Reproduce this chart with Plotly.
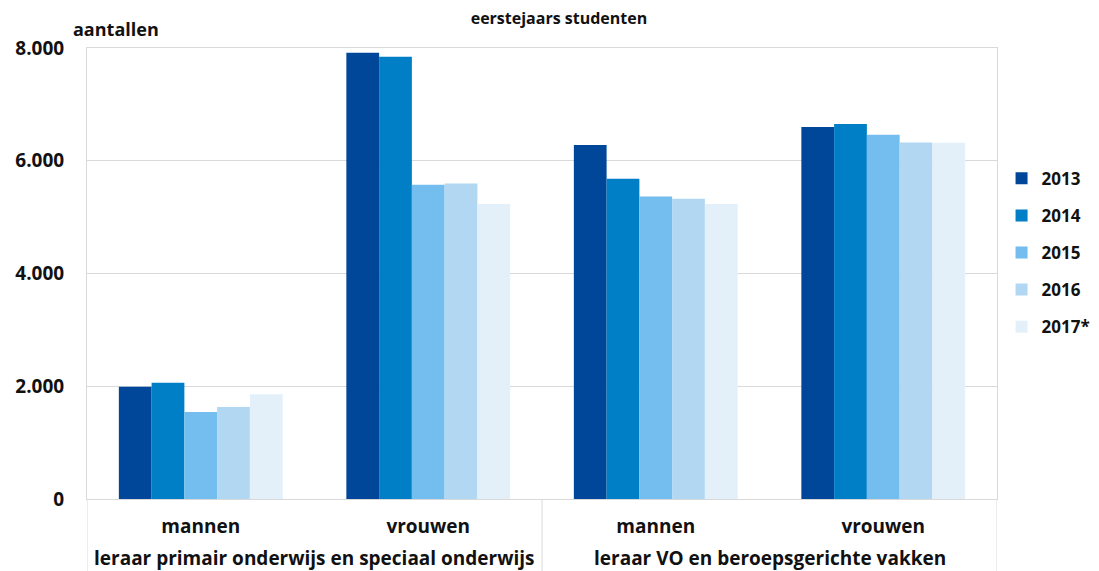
import plotly.graph_objects as go

opleidingen = ["leraar primair onderwijs en speciaal onderwijs",
               "leraar VO en beroepsgerichte vakken"]
geslacht = ["mannen", "vrouwen", "mannen", "vrouwen"]

jaren = ["2013", "2014", "2015", "2016", "2017*"]
waarden = {
    "2013": [1990, 7915, 6280, 6600],
    "2014": [2060, 7845, 5680, 6650],
    "2015": [1545, 5575, 5365, 6460],
    "2016": [1630, 5595, 5325, 6325],
    "2017*": [1860, 5235, 5235, 6320],
}
kleuren = ["#00479A", "#007EC6", "#73BEEE", "#B2D7F3", "#E3F0FA"]

y_ticks = [0, 2000, 4000, 6000, 8000]

FONT = "Open Sans"
pos = list(range(len(geslacht)))

fig = go.Figure()
for i, jaar in enumerate(jaren):
    fig.add_trace(go.Bar(
        x=pos,
        y=waarden[jaar],
        name=jaar,
        legendgroup=jaar,
        marker=dict(color=kleuren[i], line=dict(width=0)),
    ))

# outer category labels and dividers
annotations = [dict(text="<b>aantallen</b>", xref="paper", yref="paper",
                    x=-0.018, y=1.011, xanchor="left", yanchor="bottom",
                    showarrow=False, font=dict(size=18, family=FONT))]
shapes = []
for k, opl in enumerate(opleidingen):
    annotations.append(dict(text="<b>" + opl + "</b>", xref="x", yref="paper",
                            x=2 * k + 0.5, y=-0.13, xanchor="center", yanchor="middle",
                            showarrow=False, font=dict(size=19, family=FONT)))
for xd in [-0.5, 1.5, 3.5]:
    shapes.append(dict(type="line", xref="x", yref="paper", x0=xd, x1=xd,
                       y0=0, y1=-0.17, line=dict(color="#d9d9d9", width=1)))

# page body has an 8px margin: size and offsets compensate for it
fig.update_layout(
    width=1091, height=563,
    margin=dict(l=79, r=102, t=40, b=72, autoexpand=False),
    paper_bgcolor="white", plot_bgcolor="white",
    barmode="group", bargap=0.28, bargroupgap=0,
    separators=",.",
    font=dict(family=FONT, color="#111111"),
    title=dict(text="<b>eerstejaars studenten</b>", x=0.505, xanchor="center",
               y=0.982, yanchor="middle", font=dict(size=16, family=FONT)),
    legend=dict(x=1.005, xanchor="left", y=0.75, yanchor="top",
                font=dict(size=17, family=FONT, weight="bold"),
                tracegroupgap=12, traceorder="grouped", itemwidth=30),
    annotations=annotations,
    shapes=shapes,
)
fig.update_yaxes(range=[0, 8000], tickvals=y_ticks, tickformat=",d",
                 showgrid=True, gridcolor="#d9d9d9", gridwidth=1,
                 showline=True, linecolor="#d9d9d9", mirror=True,
                 ticks="", ticklabelstandoff=18, zeroline=False, automargin=False,
                 tickfont=dict(size=19, family=FONT, weight="bold"))
fig.update_xaxes(range=[-0.5, 3.5], tickvals=pos, ticktext=geslacht,
                 showline=True, linecolor="#d9d9d9", mirror=True, automargin=False,
                 ticks="", ticklabelstandoff=10,
                 tickfont=dict(size=19, family=FONT, weight="bold"))

fig.write_html("out.html")
